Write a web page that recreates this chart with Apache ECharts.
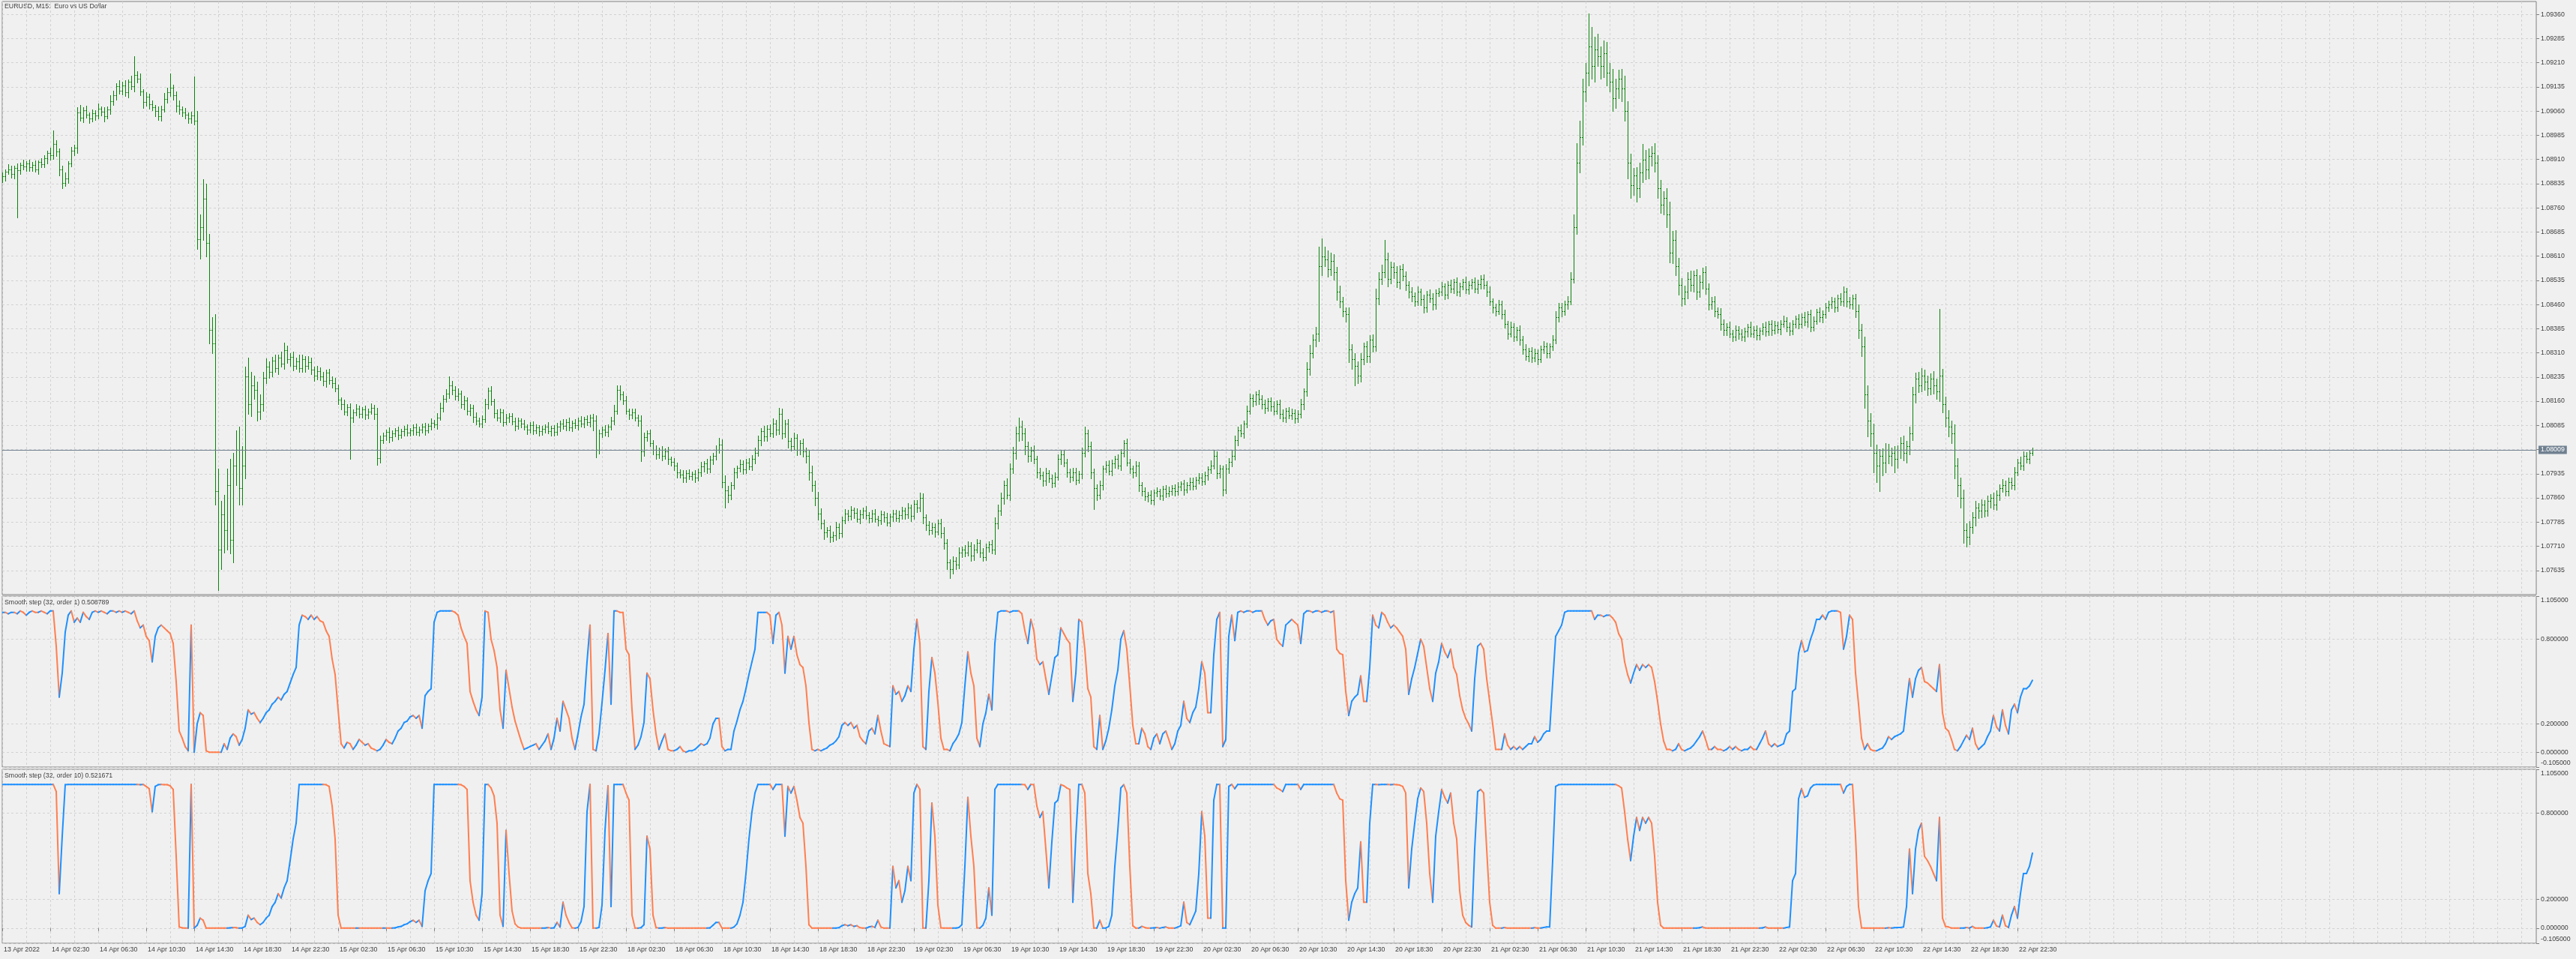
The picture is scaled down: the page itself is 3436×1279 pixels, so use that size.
<!DOCTYPE html>
<html><head><meta charset="utf-8">
<script src="https://cdn.jsdelivr.net/npm/echarts@6/dist/echarts.min.js"></script>
<style>html,body{margin:0;padding:0;background:#f0f0f0;}#c{width:3436px;height:1279px;}</style>
</head><body><div id="c"></div>
<script>
// ---- data (prices in points above 1.07000) ----
const symbolTitle = "EURUSD, M15:  Euro vs US Dollar";
const ind1Title = "Smooth step (32, order 1) 0.508789";
const ind2Title = "Smooth step (32, order 10) 0.521671";
const lastPriceText = "1.08009";
const lastPricePts = 1009;
const timeLabels = ["13 Apr 2022","14 Apr 02:30","14 Apr 06:30","14 Apr 10:30","14 Apr 14:30","14 Apr 18:30","14 Apr 22:30","15 Apr 02:30","15 Apr 06:30","15 Apr 10:30","15 Apr 14:30","15 Apr 18:30","15 Apr 22:30","18 Apr 02:30","18 Apr 06:30","18 Apr 10:30","18 Apr 14:30","18 Apr 18:30","18 Apr 22:30","19 Apr 02:30","19 Apr 06:30","19 Apr 10:30","19 Apr 14:30","19 Apr 18:30","19 Apr 22:30","20 Apr 02:30","20 Apr 06:30","20 Apr 10:30","20 Apr 14:30","20 Apr 18:30","20 Apr 22:30","21 Apr 02:30","21 Apr 06:30","21 Apr 10:30","21 Apr 14:30","21 Apr 18:30","21 Apr 22:30","22 Apr 02:30","22 Apr 06:30","22 Apr 10:30","22 Apr 14:30","22 Apr 18:30","22 Apr 22:30"];
const priceTickValues = [1.07635,1.07710,1.07785,1.07860,1.07935,1.08010,1.08085,1.08160,1.08235,1.08310,1.08385,1.08460,1.08535,1.08610,1.08685,1.08760,1.08835,1.08910,1.08985,1.09060,1.09135,1.09210,1.09285,1.09360];
const indTickValues = [-0.105,0,0.2,0.8,1.105];
const firstOpen = 1850;
const closes = [
1858,1872,1880,1866,1884,1876,1892,1888,1898,1886,
1894,1880,1902,1896,1914,1930,1922,1958,1934,1880,
1838,1852,1898,1936,1946,2056,2040,2062,2048,2036,
2054,2046,2068,2058,2044,2064,2090,2110,2138,2124,
2140,2118,2150,2136,2172,2160,2120,2088,2104,2082,
2072,2060,2044,2066,2098,2118,2132,2110,2076,2064,
2056,2048,2038,2046,2030,1662,1700,1788,1650,1380,
1340,880,700,810,760,900,730,960,1010,890,
960,1236,1150,1210,1196,1128,1150,1232,1268,1250,
1286,1262,1294,1276,1318,1290,1298,1270,1284,1262,
1290,1270,1282,1258,1240,1254,1236,1222,1248,1226,
1216,1200,1164,1150,1128,1142,1110,1126,1136,1120,
1134,1118,1128,1140,1120,984,1040,1052,1064,1048,
1060,1070,1056,1066,1074,1062,1070,1078,1064,1072,
1080,1070,1084,1092,1088,1110,1140,1168,1184,1210,
1196,1176,1184,1150,1162,1130,1140,1112,1100,1090,
1104,1150,1192,1160,1124,1110,1126,1096,1108,1114,
1098,1084,1100,1090,1080,1072,1086,1070,1078,1066,
1074,1082,1068,1076,1064,1080,1090,1084,1096,1078,
1092,1086,1100,1090,1104,1096,1110,1100,1010,1060,
1072,1064,1080,1100,1130,1196,1180,1162,1130,1118,
1126,1110,1100,1004,1048,1060,1030,1010,996,1008,
990,1004,980,972,960,940,932,922,936,928,
934,924,940,958,966,950,978,990,1010,1026,
910,884,870,900,940,952,964,948,970,958,
980,1000,1040,1066,1050,1074,1060,1090,1072,1120,
1060,1090,1036,1020,1046,1010,1030,1004,990,940,
900,860,812,780,752,760,738,744,770,750,
790,812,804,822,814,796,810,820,806,798,
812,796,790,808,800,784,802,812,798,806,
820,810,830,804,842,830,860,800,776,760,
770,756,780,750,720,660,640,664,652,690,
700,690,712,680,700,720,690,676,706,716,
700,780,820,860,900,870,950,1000,1060,1080,
1060,1020,990,1006,980,940,930,914,936,920,
906,926,980,996,970,940,926,940,916,934,
1000,1060,1020,940,890,870,900,950,962,944,
966,980,960,1000,1030,970,950,940,960,900,
880,864,870,852,876,880,866,888,874,882,
890,880,896,904,886,900,910,898,916,924,
912,930,948,960,990,936,950,886,950,972,
990,1040,1070,1060,1090,1130,1170,1160,1180,1166,
1150,1140,1160,1144,1130,1152,1120,1110,1130,1116,
1124,1106,1120,1150,1190,1260,1310,1350,1370,1580,
1610,1600,1570,1596,1560,1500,1470,1440,1430,1320,
1290,1270,1240,1290,1330,1300,1350,1330,1480,1540,
1560,1600,1540,1576,1560,1530,1570,1548,1520,1500,
1486,1470,1500,1476,1450,1490,1480,1460,1496,1500,
1516,1490,1520,1510,1530,1500,1516,1530,1506,1520,
1530,1510,1524,1540,1520,1500,1470,1450,1440,1460,
1430,1400,1370,1390,1360,1380,1350,1320,1300,1316,
1296,1310,1290,1320,1330,1310,1330,1350,1420,1450,
1440,1460,1470,1540,1700,1900,1980,2120,2180,2260,
2200,2250,2230,2200,2240,2180,2150,2100,2130,2160,
2130,2060,1900,1830,1860,1820,1870,1910,1880,1920,
1930,1900,1820,1770,1790,1740,1620,1660,1580,1520,
1480,1500,1540,1520,1550,1500,1530,1560,1510,1460,
1470,1440,1430,1400,1380,1390,1370,1360,1380,1370,
1360,1376,1390,1370,1380,1364,1378,1390,1376,1400,
1380,1396,1384,1400,1410,1390,1378,1400,1416,1400,
1420,1406,1430,1390,1410,1436,1420,1430,1450,1460,
1470,1450,1480,1470,1500,1470,1460,1480,1440,1380,
1330,1180,1100,1060,1000,960,990,970,1010,990,
1000,980,1010,1030,1000,1020,1060,1180,1230,1210,
1240,1220,1200,1230,1210,1190,1240,1150,1110,1080,
1060,960,900,860,760,740,770,800,830,820,
840,820,850,860,840,870,890,900,880,910,
900,940,970,960,990,980,1000,1009];
const wickUp = [
12,8,15,10,6,14,9,18,7,11, 9,14,6,12,10,8,16,43,12,9, 10,18,7,12,9,15,22,10,14,8, 12,9,16,7,13,10,20,14,9,18,
11,15,8,20,58,12,16,9,14,10, 12,8,15,10,18,14,45,9,12,16, 10,14,8,12,122,30,40,60,46,30, 40,90,70,40,60,50,80,40,60,70,
60,30,60,40,30,24,30,20,24,16, 12,18,10,20,24,14,10,16,12,20, 14,10,18,12,8,16,10,14,9,12, 10,16,12,8,14,10,12,9,15,11,
8,12,10,14,9,20,12,10,8,14, 10,6,12,8,10,14,7,9,12,8, 10,12,7,14,9,12,16,10,14,26, 12,10,16,8,14,10,12,9,14,10,
12,18,10,14,8,10,12,9,12,10, 8,12,10,7,12,9,8,12,10,7, 9,7,12,8,10,12,9,14,8,12, 8,12,10,14,7,12,9,10,16,12,
10,14,8,12,18,13,12,10,14,8, 10,12,8,16,14,10,12,9,14,8, 12,10,14,8,12,10,9,14,10,12, 8,12,10,14,9,16,12,10,14,20,
16,20,14,10,12,9,14,12,10,14, 12,16,14,10,18,12,14,16,12,20, 18,12,14,10,16,12,10,14,12,16, 20,14,18,16,12,10,14,12,16,10,
12,14,10,12,8,14,12,10,14,9, 10,14,8,12,10,14,9,12,10,14, 12,10,14,8,12,10,17,14,10,12, 14,10,12,16,20,12,10,14,12,16,
10,14,12,10,16,12,10,14,12,10, 14,20,18,16,14,20,16,18,22,30, 20,16,14,12,18,10,14,12,16,10, 12,14,16,10,14,12,10,14,12,10,
16,22,12,14,10,12,14,10,12,14, 12,10,14,12,10,14,12,10,14,12, 10,12,8,14,10,12,8,10,12,14, 10,12,14,8,12,10,14,12,10,12,
14,12,10,16,20,14,12,10,14,12, 16,14,12,18,10,16,14,12,10,14, 12,14,10,12,16,10,12,14,10,12, 14,10,12,16,10,20,24,18,20,60,
55,30,28,24,20,16,18,14,12,20, 16,20,14,18,12,16,14,18,30,20, 24,61,20,16,14,18,12,16,14,12, 14,12,16,10,14,12,16,14,10,12,
14,10,12,16,10,14,12,10,16,12, 10,14,12,10,14,12,16,10,12,14, 12,14,10,16,12,10,14,12,16,10, 12,14,10,12,16,12,10,14,20,16,
14,12,16,20,40,60,50,40,30,103, 60,40,50,30,40,35,30,40,30,28, 30,40,30,28,24,26,30,49,30,24, 20,30,24,26,22,30,40,28,30,24,
22,18,20,24,16,20,20,14,18,16, 14,16,12,18,14,12,16,10,14,12, 14,12,10,16,12,14,10,12,16,10, 12,14,10,12,16,10,14,12,10,14,
12,16,10,14,12,10,14,12,16,12, 14,12,10,16,17,12,14,10,12,20, 20,30,28,24,30,26,22,24,20,18, 16,20,14,18,22,16,20,24,18,20,
22,18,20,16,24,20,206,20,24,22, 20,28,24,22,26,20,18,16,20,14, 16,14,18,12,16,14,12,18,14,12, 14,16,12,18,14,12,10,8];
const wickDown = [
10,14,8,12,16,145,10,9,14,12, 12,8,14,10,9,16,12,10,14,20, 18,10,14,9,12,16,10,14,8,12, 9,14,10,12,16,8,12,10,14,9,
12,10,16,9,14,12,10,18,12,14, 10,16,12,14,9,12,10,14,18,12, 12,10,16,14,12,30,60,40,40,40, 30,40,127,60,70,60,43,70,60,50,
50,40,30,36,30,28,24,20,16,18, 14,12,18,10,16,12,20,14,10,12, 12,18,10,14,16,12,10,14,18,12, 14,10,12,16,10,12,128,14,10,12,
10,14,12,8,16,21,14,10,12,16, 12,10,14,9,12,8,10,14,9,12, 10,14,8,12,10,14,9,12,10,14, 16,12,14,10,16,12,14,18,12,10,
12,10,14,12,16,10,14,12,8,12, 10,14,9,12,8,14,10,12,9,12, 10,12,9,14,10,8,12,10,14,9, 12,10,14,8,12,10,16,30,24,12,
12,10,14,9,12,10,16,12,10,14, 12,10,16,30,14,12,10,14,16,12, 14,10,16,12,14,18,10,14,12,10, 12,14,10,12,16,12,10,14,12,10,
18,54,24,14,12,16,10,14,12,10, 12,14,10,16,12,14,10,12,16,14, 16,12,20,14,12,18,14,16,20,24, 20,24,20,16,20,14,16,12,14,16,
12,10,14,12,16,10,14,12,10,14, 12,10,16,12,14,10,12,14,10,12, 10,14,12,16,10,14,12,20,16,14, 12,16,10,14,18,20,29,14,12,10,
14,12,10,16,12,10,14,12,10,14, 12,14,16,14,18,12,16,14,20,24, 20,24,18,16,14,18,12,16,14,12, 14,12,10,16,12,14,18,12,14,10,
14,12,16,20,64,16,12,14,10,12, 14,12,10,14,12,10,14,16,12,18, 14,12,16,10,14,12,10,14,12,10, 12,14,10,12,16,10,14,12,10,12,
12,10,14,12,10,16,14,20,12,14, 14,12,16,10,14,12,10,16,12,14, 12,16,10,14,12,10,14,12,16,10, 12,14,10,12,16,14,18,16,20,24,
30,20,24,18,22,26,20,18,24,40, 30,61,24,20,16,18,20,16,14,20, 18,16,24,14,18,16,20,14,16,18, 16,14,12,18,16,14,12,16,14,10,
12,14,10,12,16,12,14,10,12,14, 10,12,14,16,10,14,12,16,14,10, 14,12,16,10,14,12,16,14,12,16, 14,12,16,10,12,14,16,12,10,14,
16,12,14,10,12,20,30,24,30,40, 40,50,30,40,35,40,30,40,30,30, 40,30,50,40,30,40,28,30,32,30, 30,28,30,26,30,40,30,32,28,30,
24,20,22,18,20,24,16,20,18,16, 14,16,12,18,14,16,12,14,12,16, 12,14,16,10,12,14,12,10,14,12, 14,10,12,16,10,14,12,10,12,14,
12,10,16,14,12,10,14,16,12,10, 12,14,10,12,14,16,12,14,20,24, 30,40,50,40,60,50,80,40,30,24, 30,40,28,26,24,30,26,20,24,22,
20,24,22,20,26,24,30,24,28,30, 30,40,36,30,40,30,24,20,26,22, 20,18,16,20,14,18,16,12,14,12, 12,14,10,12,14,10,12,8];
const smoothOrder1 = [
0.99,0.99,0.98,0.99,0.99,0.98,1.0,0.99,0.97,0.99, 1.0,0.99,0.99,1.0,0.99,0.98,1.0,1.0,0.75,0.39,
0.56,0.85,0.97,1.0,0.92,0.95,0.92,0.99,0.96,0.94, 0.99,1.0,0.99,1.0,0.99,0.98,1.0,1.0,0.99,1.0,
0.99,1.0,0.99,0.98,1.0,0.93,0.88,0.90,0.82,0.79, 0.64,0.82,0.88,0.90,0.88,0.86,0.84,0.77,0.50,0.15,
0.10,0.04,0.01,0.90,0.0,0.20,0.28,0.26,0.01,0.0, 0.0,0.0,0.0,0.0,0.06,0.02,0.10,0.13,0.11,0.05,
0.09,0.17,0.30,0.27,0.28,0.24,0.21,0.24,0.28,0.30, 0.34,0.36,0.39,0.37,0.41,0.43,0.49,0.55,0.60,0.90,
0.97,0.96,0.94,0.97,0.94,0.96,0.93,0.92,0.86,0.82, 0.66,0.55,0.30,0.06,0.03,0.07,0.06,0.02,0.05,0.09,
0.07,0.05,0.06,0.03,0.02,0.01,0.02,0.05,0.09,0.07, 0.06,0.10,0.15,0.17,0.21,0.22,0.25,0.26,0.24,0.26,
0.17,0.40,0.43,0.45,0.92,0.99,1.0,1.0,1.0,1.0, 1.0,0.99,0.97,0.88,0.82,0.77,0.43,0.36,0.30,0.26,
0.39,1.0,0.99,0.80,0.72,0.60,0.30,0.17,0.58,0.45, 0.32,0.22,0.15,0.08,0.02,0.03,0.04,0.05,0.06,0.02,
0.05,0.08,0.13,0.02,0.10,0.24,0.15,0.36,0.30,0.24, 0.10,0.02,0.13,0.25,0.34,0.64,0.90,0.02,0.01,0.13,
0.35,0.58,0.84,0.34,1.0,1.0,0.99,0.99,0.73,0.69, 0.30,0.02,0.05,0.11,0.21,0.56,0.52,0.30,0.13,0.02,
0.08,0.13,0.02,0.01,0.01,0.02,0.04,0.01,0.0,0.01, 0.01,0.02,0.04,0.06,0.05,0.06,0.10,0.20,0.24,0.24,
0.04,0.01,0.02,0.02,0.15,0.22,0.30,0.36,0.45,0.55, 0.64,0.73,0.99,0.99,0.99,0.99,0.97,0.77,0.97,0.99,
0.90,0.56,0.82,0.73,0.82,0.69,0.62,0.60,0.47,0.21, 0.02,0.01,0.02,0.01,0.02,0.03,0.05,0.06,0.08,0.11,
0.19,0.21,0.19,0.21,0.17,0.19,0.11,0.08,0.06,0.15, 0.17,0.13,0.26,0.15,0.06,0.05,0.04,0.47,0.41,0.43,
0.36,0.40,0.47,0.43,0.73,0.94,0.77,0.04,0.02,0.43, 0.67,0.56,0.35,0.10,0.02,0.02,0.01,0.06,0.09,0.13,
0.21,0.47,0.71,0.56,0.47,0.10,0.04,0.20,0.28,0.41, 0.30,0.77,0.99,1.0,1.0,1.0,0.99,1.0,1.0,1.0,
0.98,0.86,0.77,0.94,0.86,0.66,0.62,0.64,0.52,0.41, 0.54,0.67,0.69,0.88,0.84,0.80,0.77,0.36,0.56,0.94,
0.92,0.73,0.45,0.39,0.04,0.02,0.26,0.02,0.08,0.17, 0.30,0.47,0.58,0.80,0.86,0.73,0.47,0.19,0.06,0.06,
0.17,0.13,0.04,0.02,0.10,0.13,0.06,0.13,0.15,0.09, 0.02,0.06,0.15,0.19,0.36,0.24,0.21,0.28,0.32,0.45,
0.64,0.56,0.28,0.28,0.69,0.94,0.99,0.04,0.09,0.82, 0.97,0.79,0.99,1.0,0.99,1.0,1.0,0.99,1.0,1.0,
1.0,0.94,0.90,0.93,0.94,0.80,0.77,0.75,0.90,0.92, 0.94,0.92,0.90,0.77,0.98,1.0,1.0,0.99,1.0,1.0,
0.99,1.0,1.0,0.99,1.0,0.73,0.70,0.69,0.43,0.26, 0.36,0.39,0.41,0.54,0.36,0.36,0.60,0.97,0.90,0.88,
0.99,0.97,0.92,0.88,0.90,0.88,0.85,0.82,0.73,0.41, 0.52,0.60,0.70,0.80,0.75,0.60,0.45,0.36,0.56,0.64,
0.77,0.71,0.67,0.73,0.60,0.55,0.40,0.30,0.24,0.20, 0.15,0.52,0.75,0.77,0.73,0.52,0.36,0.20,0.02,0.02,
0.02,0.13,0.05,0.02,0.04,0.02,0.04,0.02,0.04,0.06, 0.06,0.11,0.07,0.09,0.13,0.15,0.15,0.49,0.82,0.86,
0.90,0.99,1.0,1.0,1.0,1.0,1.0,1.0,1.0,1.0, 1.0,0.94,0.97,0.97,0.96,0.97,0.97,0.95,0.92,0.84,
0.80,0.64,0.55,0.49,0.56,0.62,0.58,0.62,0.60,0.62, 0.60,0.50,0.36,0.20,0.08,0.02,0.02,0.01,0.02,0.06,
0.02,0.01,0.02,0.03,0.05,0.08,0.11,0.15,0.09,0.02, 0.02,0.04,0.02,0.02,0.01,0.02,0.04,0.02,0.04,0.02,
0.01,0.02,0.02,0.04,0.02,0.02,0.06,0.10,0.15,0.06, 0.04,0.06,0.04,0.05,0.06,0.13,0.15,0.43,0.45,0.70,
0.79,0.71,0.72,0.80,0.86,0.94,0.94,0.97,0.94,0.99, 1.0,1.0,1.0,0.99,0.73,0.82,0.97,0.94,0.56,0.34,
0.10,0.02,0.06,0.02,0.01,0.01,0.02,0.03,0.06,0.11, 0.09,0.11,0.12,0.13,0.15,0.34,0.52,0.39,0.52,0.58,
0.60,0.50,0.49,0.47,0.45,0.43,0.62,0.28,0.17,0.15, 0.09,0.02,0.01,0.04,0.08,0.12,0.09,0.17,0.06,0.02,
0.04,0.06,0.11,0.15,0.26,0.18,0.15,0.30,0.19,0.13, 0.30,0.34,0.28,0.39,0.45,0.45,0.47,0.508789];
const smoothOrder10 = [
1,1,1,1,1,1,1,1,1,1, 1,1,1,1,1,1,1,1,0.95,0.24,
0.64,0.998,1,1,1,1,1,1,1,1, 1,1,1,1,1,1,1,1,1,1,
1,1,1,1,1,1,0.998,1,0.986,0.97, 0.81,0.986,0.998,1,0.998,0.998,0.99,0.965,0.5,0.008,
0.002,0,0,1,0,0.02,0.07,0.055,0,0, 0,0,0,0,0,0,0.002,0.005,0.003,0,
0.001,0.012,0.09,0.06,0.07,0.04,0.024,0.04,0.07,0.09, 0.15,0.18,0.24,0.21,0.28,0.33,0.47,0.62,0.73,1,
1,1,1,1,1,1,1,1,0.998,0.986, 0.85,0.62,0.09,0,0,0,0,0,0,0.001,
0,0,0,0,0,0,0,0,0.001,0, 0,0.002,0.008,0.012,0.024,0.03,0.045,0.055,0.04,0.055,
0.012,0.26,0.33,0.38,1,1,1,1,1,1, 1,1,1,0.998,0.986,0.965,0.33,0.18,0.09,0.055,
0.24,1,1,0.975,0.92,0.73,0.09,0.012,0.68,0.38, 0.12,0.03,0.008,0.001,0,0,0,0,0,0,
0,0.001,0.005,0,0.002,0.04,0.008,0.18,0.09,0.04, 0.002,0,0.005,0.045,0.15,0.81,1,0,0,0.005,
0.16,0.68,0.99,0.15,1,1,1,1,0.94,0.89, 0.09,0,0,0.003,0.024,0.64,0.55,0.09,0.005,0,
0.001,0.005,0,0,0,0,0,0,0,0, 0,0,0,0,0,0,0.002,0.02,0.04,0.04,
0,0,0,0,0.008,0.03,0.09,0.18,0.38,0.62, 0.81,0.94,1,1,1,1,1,0.965,1,1,
1,0.64,0.986,0.94,0.986,0.89,0.77,0.73,0.43,0.024, 0,0,0,0,0,0,0,0,0.001,0.003,
0.017,0.024,0.017,0.024,0.012,0.017,0.003,0.001,0,0.008, 0.012,0.005,0.055,0.008,0,0,0,0.43,0.28,0.33,
0.18,0.26,0.43,0.33,0.94,1,0.965,0,0,0.33, 0.87,0.64,0.16,0.002,0,0,0,0,0.001,0.005,
0.024,0.43,0.91,0.64,0.43,0.002,0,0.02,0.07,0.28, 0.09,0.965,1,1,1,1,1,1,1,1,
1,0.998,0.965,1,0.998,0.85,0.77,0.81,0.55,0.28, 0.60,0.87,0.89,0.998,0.99,0.975,0.965,0.18,0.64,1,
1,0.94,0.38,0.24,0,0,0.055,0,0.001,0.012, 0.09,0.43,0.68,0.975,0.998,0.94,0.43,0.017,0,0,
0.012,0.005,0,0,0.002,0.005,0,0.005,0.008,0.001, 0,0,0.008,0.017,0.18,0.04,0.024,0.07,0.12,0.38,
0.81,0.64,0.07,0.07,0.89,1,1,0,0.001,0.986, 1,0.97,1,1,1,1,1,1,1,1,
1,1,1,1,1,0.975,0.965,0.95,1,1, 1,1,1,0.965,1,1,1,1,1,1,
1,1,1,1,1,0.94,0.90,0.89,0.33,0.055, 0.18,0.24,0.28,0.60,0.18,0.18,0.73,1,1,0.998,
1,1,1,0.998,1,0.998,0.995,0.986,0.94,0.28, 0.55,0.73,0.90,0.975,0.95,0.73,0.38,0.18,0.64,0.81,
0.965,0.91,0.87,0.94,0.73,0.62,0.26,0.09,0.04,0.02, 0.008,0.55,0.95,0.965,0.94,0.55,0.18,0.02,0,0,
0,0.005,0,0,0,0,0,0,0,0, 0,0.003,0.001,0.001,0.005,0.008,0.008,0.47,0.986,0.998,
1,1,1,1,1,1,1,1,1,1, 1,1,1,1,1,1,1,1,1,0.99,
0.975,0.81,0.62,0.47,0.64,0.77,0.68,0.77,0.73,0.77, 0.73,0.50,0.18,0.02,0.001,0,0,0,0,0,
0,0,0,0,0,0.001,0.003,0.008,0.001,0, 0,0,0,0,0,0,0,0,0,0,
0,0,0,0,0,0,0,0.002,0.008,0, 0,0,0,0,0,0.005,0.008,0.33,0.38,0.90,
0.97,0.91,0.92,0.975,0.995,1,1,1,1,1, 1,1,1,1,0.94,0.986,1,1,0.64,0.15,
0.002,0,0,0,0,0,0,0,0,0.003, 0.001,0.003,0.004,0.005,0.008,0.15,0.55,0.24,0.55,0.68,
0.73,0.50,0.47,0.43,0.38,0.33,0.77,0.07,0.012,0.008, 0.001,0,0,0,0.001,0.004,0.001,0.012,0,0,
0,0,0.003,0.008,0.055,0.015,0.008,0.09,0.017,0.005, 0.09,0.15,0.07,0.24,0.38,0.38,0.43,0.521671];

// ---- layout / style ----
const SLOTS = 846;            // bar slots across the chart width (incl. empty right margin)
const BARS_PER_LABEL = 16;
const PRICE_BASE = 560;       // panel bottom = 1.07560
const PRICE_TOP = 2400;       // panel top = 1.09400
const BAR_COLOR = '#0a820a';
const UP_COLOR = '#1e90ff';
const DN_COLOR = '#ff7f50';
const TXT = '#3c3c3c';
const GRIDC = '#d2d2d2';
const BORDER = '#808080';
const FONT = '"Liberation Sans", Arial, sans-serif';
const FS = 8.8;

const cats = Array.from({length: SLOTS}, (_, i) => String(i));
const opens = closes.map((c, i) => i === 0 ? firstOpen : closes[i - 1]);
const ohlc = closes.map((c, i) => {
  const o = opens[i];
  const hi = Math.max(o, c) + (wickUp[i] || 0);
  const lo = Math.min(o, c) - (wickDown[i] || 0);
  return [i, o - PRICE_BASE, c - PRICE_BASE, lo - PRICE_BASE, hi - PRICE_BASE];
});
function segments(vals) {
  let dir = 1;
  return vals.map((v, i) => {
    if (i === 0) return [0, v, v, 1];
    if (v > vals[i - 1]) dir = 1; else if (v < vals[i - 1]) dir = 0;
    return [i, vals[i - 1], v, dir];
  });
}
function labelFor(i) {
  const k = i / BARS_PER_LABEL;
  return (Number.isInteger(k) && k < timeLabels.length) ? timeLabels[k] : '';
}
const showTick = (idx) => idx % BARS_PER_LABEL === 0 && idx / BARS_PER_LABEL < timeLabels.length;

function renderBar(params, api) {
  const i = api.value(0);
  const po = api.coord([i, api.value(1)]);
  const yc = Math.round(api.coord([i, api.value(2)])[1]);
  const yl = Math.round(api.coord([i, api.value(3)])[1]);
  const yh = Math.round(api.coord([i, api.value(4)])[1]);
  const x = Math.round(po[0]);
  const yo = Math.round(po[1]);
  const st = {fill: BAR_COLOR};
  return {type: 'group', children: [
    {type: 'rect', shape: {x: x, y: yh, width: 1, height: Math.max(1, yl - yh + 1)}, style: st},
    {type: 'rect', shape: {x: x - 1, y: yo, width: 1, height: 1}, style: st},
    {type: 'rect', shape: {x: x + 1, y: yc, width: 1, height: 1}, style: st}
  ]};
}
function renderSeg(params, api) {
  const i = api.value(0);
  if (i === 0) return null;
  const p0 = api.coord([i - 1, api.value(1)]);
  const p1 = api.coord([i, api.value(2)]);
  return {type: 'line', shape: {x1: p0[0], y1: p0[1], x2: p1[0], y2: p1[1]},
    style: {stroke: api.value(3) ? UP_COLOR : DN_COLOR, lineWidth: 2, lineCap: 'round'}};
}

const gridBase = {left: 3, right: 53, show: true, borderColor: BORDER, borderWidth: 1, backgroundColor: 'transparent'};
function xAx(gi, withLabels) {
  return {
    type: 'category', gridIndex: gi, data: cats, boundaryGap: false,
    axisLine: {show: false},
    axisTick: {show: withLabels, interval: showTick, length: 4, lineStyle: {color: BORDER}},
    axisLabel: {show: withLabels, interval: showTick, formatter: (v) => labelFor(Number(v)),
      align: 'left', margin: 4, color: TXT, fontFamily: FONT, fontSize: FS, padding: [0, 0, 0, 2]},
    splitLine: {show: true, interval: 7, lineStyle: {color: GRIDC, type: [3, 3], width: 1}}
  };
}
const priceTickPts = priceTickValues.map(p => Math.round(p * 100000 - 107000) - PRICE_BASE);
function indAxis(gi) {
  return {
    type: 'value', gridIndex: gi, position: 'right', min: -0.105, max: 1.105,
    axisLine: {show: false},
    axisTick: {show: true, length: 4, customValues: indTickValues, lineStyle: {color: BORDER}},
    axisLabel: {show: true, customValues: indTickValues, margin: 6, color: TXT, fontFamily: FONT, fontSize: FS,
      formatter: (v) => {
        const s = v.toFixed(6);
        if (v > 1.1) return '{t|' + s + '}';
        if (v < -0.1) return '{b|' + s + '}';
        return s;
      },
      rich: {t: {padding: [12, 0, 0, 0], color: TXT, fontFamily: FONT, fontSize: FS},
             b: {padding: [0, 0, 10, 0], color: TXT, fontFamily: FONT, fontSize: FS}}},
    splitLine: {show: true, lineStyle: {color: GRIDC, type: [3, 3], width: 1}}
  };
}

const chart = echarts.init(document.getElementById('c'), null, {renderer: 'canvas'});
chart.setOption({
  animation: false,
  backgroundColor: '#f0f0f0',
  grid: [
    Object.assign({top: 2, height: 791}, gridBase),
    Object.assign({top: 795, height: 228}, gridBase),
    Object.assign({top: 1026, height: 232}, gridBase)
  ],
  xAxis: [xAx(0, false), xAx(1, false), xAx(2, true)],
  yAxis: [
    {type: 'value', gridIndex: 0, position: 'right', min: 0, max: PRICE_TOP - PRICE_BASE,
     axisLine: {show: false},
     axisTick: {show: true, length: 4, customValues: priceTickPts, lineStyle: {color: BORDER}},
     axisLabel: {show: true, customValues: priceTickPts, margin: 6, color: TXT, fontFamily: FONT, fontSize: FS,
       formatter: (v) => ((107000 + PRICE_BASE + v) / 100000).toFixed(5)},
     splitLine: {show: true, lineStyle: {color: GRIDC, type: [3, 3], width: 1}}},
    indAxis(1), indAxis(2)
  ],
  series: [
    {type: 'custom', xAxisIndex: 0, yAxisIndex: 0, renderItem: renderBar, data: ohlc,
     encode: {x: 0, y: [1, 2, 3, 4]}, clip: true, silent: true, progressive: 0,
     markLine: {silent: true, symbol: 'none', animation: false,
       lineStyle: {color: '#708090', type: 'solid', width: 1},
       label: {show: true, position: 'end', distance: 3, formatter: lastPriceText,
         backgroundColor: '#708090', color: '#ffffff', padding: [1, 3, 1, 3], fontFamily: FONT, fontSize: FS},
       data: [{yAxis: lastPricePts - PRICE_BASE}]}},
    {type: 'custom', xAxisIndex: 1, yAxisIndex: 1, renderItem: renderSeg, data: segments(smoothOrder1),
     encode: {x: 0, y: [1, 2]}, clip: true, silent: true, progressive: 0},
    {type: 'custom', xAxisIndex: 2, yAxisIndex: 2, renderItem: renderSeg, data: segments(smoothOrder10),
     encode: {x: 0, y: [1, 2]}, clip: true, silent: true, progressive: 0}
  ],
  graphic: [
    {type: 'text', left: 6, top: 4, style: {text: symbolTitle, fill: TXT, font: FS + 'px ' + FONT}},
    {type: 'text', left: 6, top: 799, style: {text: ind1Title, fill: TXT, font: FS + 'px ' + FONT}},
    {type: 'text', left: 6, top: 1030, style: {text: ind2Title, fill: TXT, font: FS + 'px ' + FONT}}
  ]
});
</script></body></html>
